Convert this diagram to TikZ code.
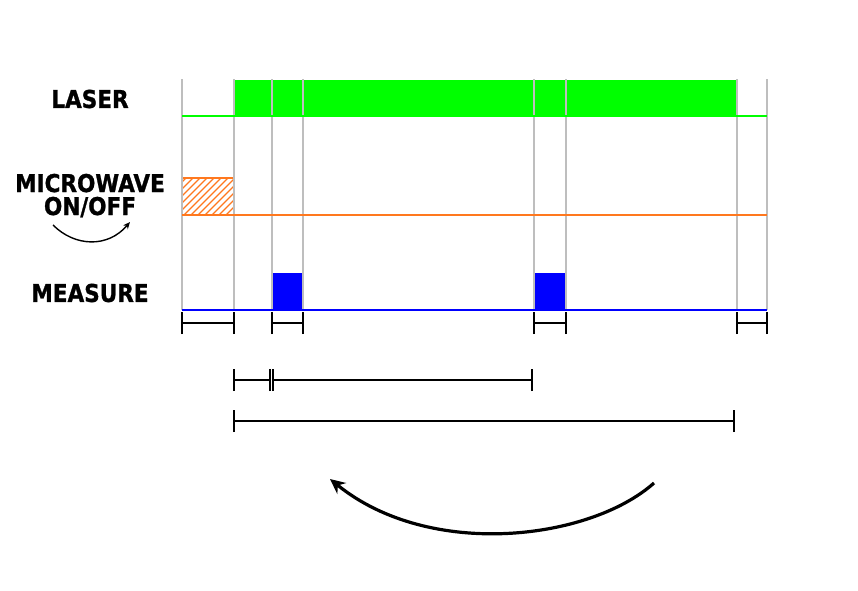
\documentclass[tikz,border=0pt]{standalone}
\usepackage{fontspec}
\setmainfont{DejaVu Sans}
\newfontfamily\labfont{DejaVu Sans Bold}[FakeBold=1.2]
\usetikzlibrary{arrows.meta}
\definecolor{laser}{RGB}{0,255,0}
\definecolor{mw}{RGB}{255,120,30}
\definecolor{meas}{RGB}{0,0,255}
\definecolor{grid}{RGB}{190,190,190}
\tikzset{
  lab/.style={font=\labfont\fontsize{24.5}{23}\selectfont, xscale=0.88, transform shape, inner sep=0pt, align=center},
  gridline/.style={draw=grid, line width=1.8pt},
  bar/.style={draw=black, line width=1.6pt},
  tick/.style={draw=black, line width=1.6pt},
}
\begin{document}
\begin{tikzpicture}[x=1pt,y=-1pt]
\useasboundingbox (0,0) rectangle (858,590);
% boxes
\fill[laser] (234,80) rectangle (737,116);
\fill[meas] (272,273) rectangle (303,310);
\fill[meas] (534,273) rectangle (566,310);
\begin{scope}
\clip (182,178) rectangle (234,215);
\foreach \i in {-6,...,16} {
  \draw[mw, line width=1.1pt] (170+7*\i,222) -- ++(50,-50);
}
\end{scope}
\draw[mw, line width=1.3pt] (182,178) rectangle (234,215);
% grid lines
\foreach \x in {182,234,272,303,534,566,737,767} {
  \draw[gridline] (\x,79) -- (\x,310);
}
% baselines
\draw[laser, line width=2pt] (182,116) -- (767,116);
\draw[mw, line width=2pt] (182,215) -- (767,215);
\draw[meas, line width=2.5pt] (182,310) -- (767,310);
% labels
\node[lab] (laserlab) at (90,99) {LASER};
\node[lab, anchor=base] (mwlab) at (90,215) {MICROWAVE\\ON/OFF};
\node[lab] (measlab) at (90,293) {MEASURE};
% small arrow
\coordinate (sa1) at (53,225);
\coordinate (sa2) at (130,222);
\draw[line width=1.4pt, -{Stealth[length=7pt,width=6pt]}] (sa1) .. controls (75,247) and (108,248) .. (sa2);
% scale bars
\foreach \a/\b/\y in {182/234/323, 272/303/323, 534/566/323, 737/767/323, 234/270/380, 273/532/380, 234/734/421} {
  \coordinate (L) at (\a,\y);
  \coordinate (R) at (\b,\y);
  \draw[bar] (L) -- (R);
  \draw[tick] ([yshift=-11pt]L) -- ([yshift=11pt]L);
  \draw[tick] ([yshift=-11pt]R) -- ([yshift=11pt]R);
}
% big arrow
\coordinate (ba1) at (654,483);
\coordinate (ba2) at (330,479);
\draw[line width=3.2pt, -{Stealth[length=15pt,width=14pt]}] (ba1) .. controls (590,540) and (430,560) .. (ba2);
\end{tikzpicture}
\end{document}
